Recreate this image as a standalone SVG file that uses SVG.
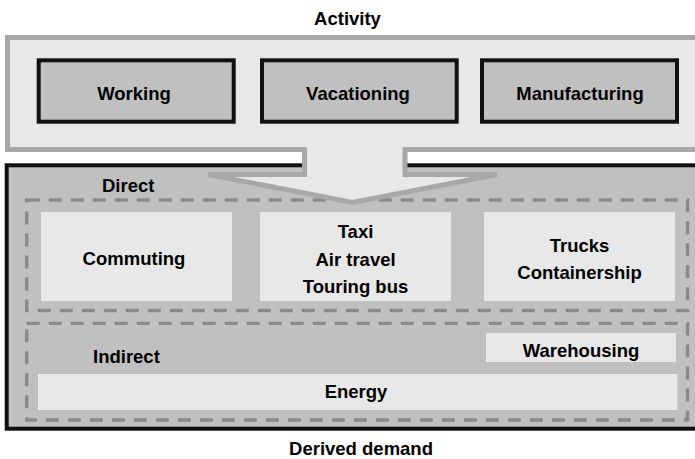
<svg xmlns="http://www.w3.org/2000/svg" width="695" height="459" viewBox="0 0 695 459">
<style>
  text { font-family: "Liberation Sans", Arial, Helvetica, sans-serif; font-weight: bold; font-size: 18.5px; fill: #000; text-anchor: middle; }
  .lbl { text-anchor: start; }
  .node { fill: #c0c0c0; stroke: #111; stroke-width: 4; }
  .light { fill: #e8e8e8; stroke: none; }
  .dash { fill: none; stroke: #8a8a8a; stroke-width: 3.4; stroke-dasharray: 13 9; }
  .outer { fill: #c0c0c0; stroke: #111; stroke-width: 4; }
  .top { fill: #e8e8e8; stroke: #a8a8a8; stroke-width: 5; }
</style>
<rect width="695" height="459" fill="#ffffff"/>

<g id="derived-demand">
  <rect class="outer" x="6.7" y="165.3" width="710" height="263.4"/>
  <text x="361" y="455">Derived demand</text>
</g>

<g id="direct">
  <rect class="dash" x="26.7" y="200" width="660.8" height="110.5"/>
  <text class="lbl" x="102" y="192">Direct</text>
</g>

<g id="indirect">
  <rect class="dash" x="26.7" y="323.4" width="660.8" height="96.6"/>
  <text class="lbl" x="93" y="363">Indirect</text>
</g>

<g id="commuting">
  <rect class="light" x="41" y="212" width="191" height="89"/>
  <text x="134" y="265">Commuting</text>
</g>

<g id="passenger">
  <rect class="light" x="260" y="212" width="191" height="89"/>
  <text x="355.5" y="238">Taxi</text>
  <text x="355.5" y="266">Air travel</text>
  <text x="355.5" y="293">Touring bus</text>
</g>

<g id="freight">
  <rect class="light" x="484" y="212" width="191" height="89"/>
  <text x="579.5" y="252">Trucks</text>
  <text x="579.5" y="279">Containership</text>
</g>

<g id="warehousing">
  <rect class="light" x="486" y="333" width="190" height="29"/>
  <text x="581" y="356.5">Warehousing</text>
</g>

<g id="energy">
  <rect class="light" x="38" y="374" width="639.5" height="36"/>
  <text x="356" y="398">Energy</text>
</g>

<g id="activity">
  <polygon class="top" points="7.5,37.5 710,37.5 710,149.5 405,149.5 405,174.5 497,174.5 352.5,202.5 208,174.5 304.5,174.5 304.5,149.5 7.5,149.5"/>
  <text x="347.5" y="25">Activity</text>
</g>

<g id="connectors"></g>

<g id="working">
  <rect class="node" x="38.7" y="60.3" width="195" height="61.4"/>
  <text x="134" y="100">Working</text>
</g>

<g id="vacationing">
  <rect class="node" x="262" y="60.3" width="194.7" height="61.4"/>
  <text x="358" y="100">Vacationing</text>
</g>

<g id="manufacturing">
  <rect class="node" x="482" y="60.3" width="195" height="61.4"/>
  <text x="580" y="100">Manufacturing</text>
</g>
</svg>
